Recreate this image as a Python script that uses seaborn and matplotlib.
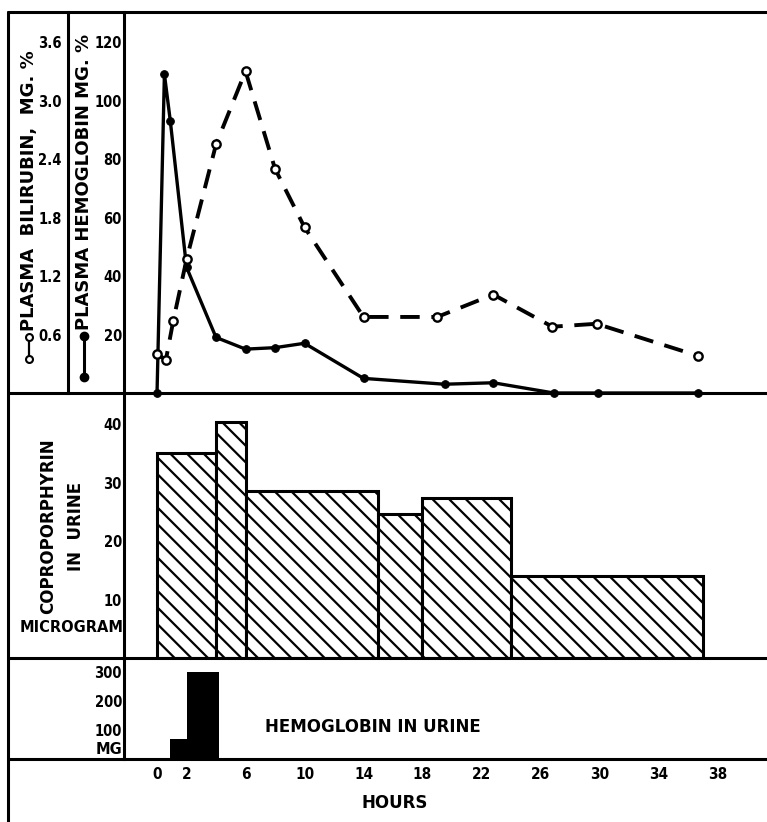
import matplotlib
matplotlib.use("Agg")
import matplotlib.pyplot as plt
from matplotlib.lines import Line2D
import seaborn as sns

# ---------------- data ----------------
hb_hours = [0, 0.5, 0.9, 2, 4, 6, 8, 10, 14, 19.5, 22.8, 26.9, 29.9, 36.7]
hb_plasma = [0, 109, 93, 43, 19, 15, 15.5, 17, 5, 3, 3.5, 0, 0, 0]

bili_hours = [0, 0.6, 1.1, 2, 4, 6, 8, 10, 14, 19, 22.8, 26.8, 29.8, 36.7]
bili_plasma = [0.40, 0.34, 0.74, 1.37, 2.55, 3.30, 2.30, 1.70, 0.78, 0.78, 1.01, 0.68, 0.71, 0.38]

copro_edges = [0, 4, 6, 15, 18, 24, 37]
copro_values = [35.1, 40.3, 28.6, 24.7, 27.4, 14.1]

urine_hb_edges = [0.9, 2, 4.2]
urine_hb_values = [70, 300]

hour_ticks = [0, 2, 6, 10, 14, 18, 22, 26, 30, 34, 38]
hb_ticks = [20, 40, 60, 80, 100, 120]
bili_ticks = [0.6, 1.2, 1.8, 2.4, 3.0, 3.6]
bili_labels = ["0.6", "1.2", "1.8", "2.4", "3.0", "3.6"]
copro_ticks = [10, 20, 30, 40]
urine_ticks = [100, 200, 300]

# ---------------- style ----------------
sns.set_style("white")
plt.rcParams["font.family"] = ["DejaVu Sans"]
plt.rcParams["hatch.linewidth"] = 1.6
plt.rcParams["hatch.color"] = "black"
for k in ("text.color", "axes.labelcolor", "xtick.color", "ytick.color"):
    plt.rcParams[k] = "black"

W, H = 767, 822
fig = plt.figure(figsize=(W / 100, H / 100), dpi=100)


def rect(x0, y0, x1, y1):
    return [x0 / W, 1 - y1 / H, (x1 - x0) / W, (y1 - y0) / H]


def fx(x):
    return x / W


def fy(y):
    return 1 - y / H


LW = 2.2
XLIM = (-2.24, 41.36)

ax_top = fig.add_axes(rect(124, 12, 767, 393))
ax_mid = fig.add_axes(rect(124, 393, 767, 658))
ax_bot = fig.add_axes(rect(124, 658, 767, 759))

for ax in (ax_top, ax_mid, ax_bot):
    ax.set_facecolor("none")
    for s in ("top", "right", "bottom"):
        ax.spines[s].set_visible(False)
    ax.spines["left"].set_linewidth(LW)
    ax.spines["left"].set_color("black")
    ax.set_xlim(*XLIM)
    ax.tick_params(axis="both", length=0, colors="black")

num_font = dict(fontsize=10.5, fontweight="bold", fontstretch="condensed",
                color="black")

# ---------------- top panel ----------------
sns.lineplot(x=hb_hours, y=hb_plasma, ax=ax_top, color="black", lw=2.4,
             marker="o", markersize=5.5, markerfacecolor="black",
             markeredgecolor="black", errorbar=None, sort=False, clip_on=False)
ax_top.set_ylim(0, 130.26)
ax_top.set_yticks(hb_ticks)
ax_top.set_yticklabels([str(t) for t in hb_ticks], **num_font)
ax_top.tick_params(axis="y", pad=1.5)
ax_top.set_xticks([])
ax_top.set_xlabel("")
ax_top.set_ylabel("")

ax_bil = ax_top.twinx()
ax_bil.set_facecolor("none")
sns.lineplot(x=bili_hours, y=bili_plasma, ax=ax_bil, color="black", lw=2.8,
             linestyle=(0, (5, 3)), marker="o", markersize=6,
             markerfacecolor="white", markeredgecolor="black",
             markeredgewidth=1.7, errorbar=None, sort=False, clip_on=False)
ax_bil.set_ylim(0, 130.26 * 0.03)
ax_bil.set_xlim(*XLIM)
for s in ("top", "right", "bottom"):
    ax_bil.spines[s].set_visible(False)
ax_bil.spines["left"].set_visible(True)
ax_bil.spines["left"].set_position(("axes", (68 - 124) / (767 - 124)))
ax_bil.spines["left"].set_linewidth(LW)
ax_bil.spines["left"].set_color("black")
ax_bil.yaxis.set_ticks_position("left")
ax_bil.yaxis.set_label_position("left")
ax_bil.set_yticks(bili_ticks)
ax_bil.set_yticklabels(bili_labels, **num_font)
ax_bil.tick_params(axis="y", length=0, pad=4.5)
ax_bil.set_ylabel("")
ax_bil.set_xticks([])

# ---------------- middle panel ----------------
copro_mids = [(a + b) / 2 for a, b in zip(copro_edges[:-1], copro_edges[1:])]
sns.histplot(x=copro_mids, weights=copro_values, bins=copro_edges, ax=ax_mid,
             stat="count", color="white", edgecolor="black", linewidth=LW,
             alpha=1)
for p in ax_mid.patches:
    p.set_facecolor("white")
    p.set_hatch("\\\\")
ax_mid.set_ylim(0, 45.3)
ax_mid.set_xlim(*XLIM)
ax_mid.set_yticks(copro_ticks)
ax_mid.set_yticklabels([str(t) for t in copro_ticks], **num_font)
ax_mid.tick_params(axis="y", pad=1.5)
ax_mid.set_xticks([])
ax_mid.set_ylabel("")

# ---------------- bottom panel ----------------
urine_mids = [(a + b) / 2 for a, b in zip(urine_hb_edges[:-1], urine_hb_edges[1:])]
sns.histplot(x=urine_mids, weights=urine_hb_values, bins=urine_hb_edges,
             ax=ax_bot, stat="count", color="black", edgecolor="black",
             linewidth=0, alpha=1)
ax_bot.set_ylim(0, 348)
ax_bot.set_xlim(*XLIM)
ax_bot.set_yticks(urine_ticks)
ax_bot.set_yticklabels([str(t) for t in urine_ticks], **num_font)
ax_bot.tick_params(axis="y", pad=1.5)
ax_bot.set_xticks(hour_ticks)
ax_bot.set_xticklabels([str(t) for t in hour_ticks], fontsize=11,
                       fontweight="bold", fontstretch="condensed",
                       color="black")
ax_bot.tick_params(axis="x", pad=6)
ax_bot.set_ylabel("")
ax_bot.text(7.3, 110, "HEMOGLOBIN IN URINE", ha="left", va="center",
            fontsize=12, fontweight="bold", color="black")

# ---------------- frame lines ----------------
for y in (12, 393, 658, 759):
    fig.add_artist(Line2D([fx(8), 1], [fy(y), fy(y)], lw=LW, color="black"))
fig.add_artist(Line2D([fx(8), fx(8)], [fy(12), 0], lw=LW, color="black"))

# ---------------- labels ----------------
lab = dict(fontweight="bold", rotation=90, ha="center", color="black")
fig.text(fx(29), fy(331), "PLASMA  BILIRUBIN,  MG. %", va="bottom",
         fontsize=13, **lab)
fig.text(fx(84), fy(330), "PLASMA HEMOGLOBIN MG. %", va="bottom",
         fontsize=13, **lab)
# legend keys
fig.add_artist(Line2D([fx(29), fx(29)], [fy(337), fy(359)], lw=1.6,
                      color="black", marker="o", markersize=5,
                      markerfacecolor="white", markeredgecolor="black",
                      markeredgewidth=1.5))
fig.add_artist(Line2D([fx(84), fx(84)], [fy(336), fy(377)], lw=2.2,
                      color="black", marker="o", markersize=6,
                      markerfacecolor="black", markeredgecolor="black"))

fig.text(fx(48), fy(526), "COPROPORPHYRIN", va="center", fontsize=12, **lab)
fig.text(fx(76), fy(526), "IN  URINE", va="center", fontsize=12, **lab)
fig.text(fx(124), fy(628), "MICROGRAM", ha="right", va="center",
         fontsize=10.5, fontweight="bold", color="black")
fig.text(fx(122), fy(749), "MG", ha="right", va="center",
         fontsize=10.5, fontweight="bold", color="black")
fig.text(fx(395), fy(803), "HOURS", ha="center", va="center",
         fontsize=12, fontweight="bold", color="black")

fig.savefig("out.png", dpi=100)
